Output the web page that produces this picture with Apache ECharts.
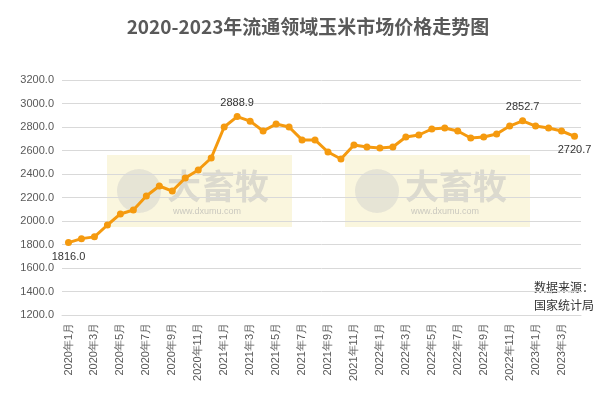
<!DOCTYPE html><html><head><meta charset="utf-8"><script src="https://cdn.jsdelivr.net/npm/echarts@6/dist/echarts.min.js"></script></head><body style="margin:0"><div id="c" style="width:616px;height:403px"></div><script>
const categories=[];for(let y=2020;y<=2023;y++)for(let m=1;m<=12;m++){if(y===2023&&m>4)break;categories.push(y+'年'+m+'月');}
const values=[1816.0,1850,1865,1966,2060,2094,2213,2298,2255,2366,2434,2536,2800,2888.9,2850,2766,2825,2800,2690,2690,2587,2528,2647,2630,2621,2630,2715,2732,2783,2791,2766,2706,2715,2740,2808,2852.7,2808,2791,2766,2720.7];
const labelIdx=[0,13,35,39];
const c=echarts.init(document.getElementById('c'));
const wm=(x)=>({type:'group',left:x,top:155,z:-1,children:[{type:'rect',shape:{width:185,height:72},style:{fill:'rgba(240,230,160,0.35)'}},{type:'circle',shape:{cx:32,cy:36,r:22},style:{fill:'rgba(200,200,200,0.4)'}},{type:'text',left:60,top:14,style:{text:'大畜牧',font:'bold 34px "Noto Sans CJK SC"',fill:'rgba(190,190,190,0.5)'}},{type:'text',left:66,top:52,style:{text:'www.dxumu.com',font:'9px sans-serif',fill:'rgba(170,170,170,0.6)'}}]});
c.setOption({
title:{text:'2020-2023年流通领域玉米市场价格走势图',left:'center',top:12,textStyle:{fontSize:19,fontWeight:'bold',color:'#595959',fontFamily:'"Noto Sans CJK SC"'}},
graphic:[wm(107),wm(345),{type:'text',right:22,top:278,style:{text:'数据来源：\n国家统计局',font:'12px "Noto Sans CJK SC"',fill:'#333',lineHeight:18}}],
grid:{left:62,right:35,top:80,bottom:88},
xAxis:{type:'category',data:categories,boundaryGap:true,axisLabel:{interval:1,rotate:90,fontSize:11,color:'#595959'},axisTick:{show:false},axisLine:{lineStyle:{color:'#d9d9d9'}}},
yAxis:{type:'value',min:1200,max:3200,interval:200,axisLabel:{formatter:v=>v.toFixed(1),fontSize:11,color:'#595959'},splitLine:{lineStyle:{color:'#d9d9d9'}}},
series:[{type:'line',data:values.map((v,i)=>({value:v,label:{show:labelIdx.includes(i),position:i===0||i===39?'bottom':'top',formatter:p=>p.value.toFixed(1),fontSize:11,color:'#333'}})),symbol:'circle',symbolSize:7,itemStyle:{color:'#f59a0f'},lineStyle:{color:'#f59a0f',width:3}}]
});
</script></body></html>
